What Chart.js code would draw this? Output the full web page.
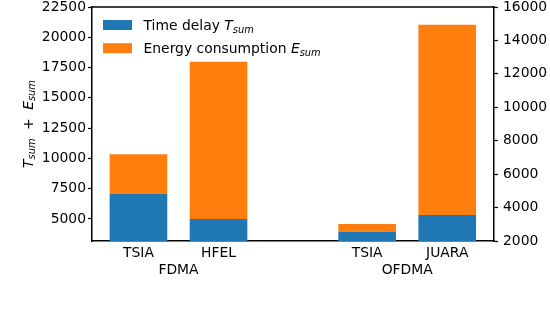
<!DOCTYPE html>
<html><head><meta charset="utf-8">
<script src="https://cdn.jsdelivr.net/npm/chart.js@4.4.0/dist/chart.umd.min.js"></script>
<style>html,body{margin:0;padding:0;background:#fff}#wrap{width:550px;height:310px}</style>
</head><body><div id="wrap"><canvas id="c" width="550" height="310"></canvas></div>
<script>
// ---- data ----
const categories = ['TSIA', 'HFEL', 'TSIA', 'JUARA'];
const groups = ['FDMA', 'OFDMA'];
const positions = [0, 1, 2.856, 3.856];
const timeDelay = [7090, 5000, 3950, 5330];
const energy = [3260, 12980, 635, 15700];
const leftTicks = [5000, 7500, 10000, 12500, 15000, 17500, 20000, 22500];
const rightTicks = [2000, 4000, 6000, 8000, 10000, 12000, 14000, 16000];
const legendLabels = [['Time delay ', 'T', 'sum'], ['Energy consumption ', 'E', 'sum']];
const axisTitle = [['T', 'sum'], ['+'], ['E', 'sum']];

const FAMILY = "'DejaVu Sans', sans-serif";
const FS = 13.9;
const tickFont = {family: FAMILY, size: FS, lineHeight: 1};
const COLORS = ['#1f77b4', '#ff7f0e'];

function setFont(ctx, p) {
  const size = p.sub ? FS * 0.71 : FS;
  ctx.font = (p.italic ? 'italic ' : '') + size + 'px ' + FAMILY;
}
function drawRich(ctx, x, y, pieces) {
  let cx = x;
  for (const p of pieces) {
    if (p.gap) { cx += p.gap; continue; }
    setFont(ctx, p);
    ctx.fillText(p.t, cx, y + (p.sub ? 2.6 : 0));
    cx += ctx.measureText(p.t).width;
  }
  return cx - x;
}
function measureRich(ctx, pieces) {
  let w = 0;
  for (const p of pieces) {
    if (p.gap) { w += p.gap; continue; }
    setFont(ctx, p);
    w += ctx.measureText(p.t).width;
  }
  return w;
}

const decor = {
  id: 'decor',
  afterDraw(chart) {
    const {ctx, chartArea: a, scales} = chart;
    ctx.save();
    ctx.strokeStyle = '#000';
    ctx.lineWidth = 1.5;
    ctx.beginPath();
    ctx.moveTo(a.left - 0.75, a.top);
    ctx.lineTo(a.right + 0.75, a.top);
    ctx.stroke();
    ctx.fillStyle = '#000';
    ctx.textBaseline = 'alphabetic';
    ctx.font = FS + 'px ' + FAMILY;
    ctx.textAlign = 'center';
    for (let g = 0; g < groups.length; g++) {
      const xm = (scales.x.getPixelForValue(positions[2 * g]) + scales.x.getPixelForValue(positions[2 * g + 1])) / 2;
      ctx.fillText(groups[g], xm, 274.3);
    }
    ctx.textAlign = 'left';
    const lx = a.left + 11, ly = a.top + 13;
    for (let i = 0; i < legendLabels.length; i++) {
      const y = ly + i * 23.2;
      ctx.fillStyle = COLORS[i];
      ctx.fillRect(lx, y, 29, 10);
      ctx.fillStyle = '#000';
      const [txt, sym, sub] = legendLabels[i];
      drawRich(ctx, lx + 40.5, y + 10, [{t: txt}, {t: sym, italic: true}, {t: sub, italic: true, sub: true}]);
    }
    const pieces = [];
    axisTitle.forEach((part, k) => {
      if (k > 0) pieces.push({gap: 8.5});
      if (part.length === 2) { pieces.push({t: part[0], italic: true}); pieces.push({t: part[1], italic: true, sub: true}); }
      else pieces.push({t: part[0]});
    });
    const w = measureRich(ctx, pieces);
    ctx.translate(32.5, (a.top + a.bottom) / 2 + w / 2);
    ctx.rotate(-Math.PI / 2);
    drawRich(ctx, 0, 0, pieces);
    ctx.restore();
  }
};

function noPad(s) { s.paddingTop = 0; s.paddingBottom = 0; s.paddingLeft = 0; s.paddingRight = 0; }

new Chart(document.getElementById('c'), {
  type: 'bar',
  data: {
    datasets: [
      {label: 'Time delay Tsum', data: positions.map((x, i) => ({x: x, y: timeDelay[i]})), backgroundColor: COLORS[0], yAxisID: 'y', barPercentage: 0.72, categoryPercentage: 1},
      {label: 'Energy consumption Esum', data: positions.map((x, i) => ({x: x, y: energy[i]})), backgroundColor: COLORS[1], yAxisID: 'y', barPercentage: 0.72, categoryPercentage: 1}
    ]
  },
  options: {
    responsive: false, animation: false, devicePixelRatio: 1,
    layout: {padding: {top: 7, left: 0, right: 0, bottom: 0}},
    plugins: {legend: {display: false}, tooltip: {enabled: false}},
    scales: {
      x: {
        type: 'linear', stacked: true, min: -0.58, max: 4.44, offset: false,
        afterBuildTicks: s => { s.ticks = positions.map(v => ({value: v})); },
        ticks: {callback: (v, i) => categories[i], font: {family: FAMILY, size: FS}, color: '#000', padding: 4, autoSkip: false, maxRotation: 0, minRotation: 0},
        grid: {display: false, drawTicks: false, offset: false},
        border: {display: true, color: '#000', width: 1.5},
        afterFit: s => { s.height = 69; noPad(s); }
      },
      y: {
        type: 'linear', position: 'left', stacked: true, min: 3180, max: 22500,
        afterBuildTicks: s => { s.ticks = leftTicks.map(v => ({value: v})); },
        ticks: {font: tickFont, color: '#000', padding: 2, callback: v => String(v)},
        grid: {drawOnChartArea: false, drawTicks: true, tickLength: 4, tickColor: '#000', tickWidth: 1.2},
        border: {display: true, color: '#000', width: 1.5},
        afterFit: s => { s.width = 92; noPad(s); }
      },
      y2: {
        type: 'linear', position: 'right', min: 2000, max: 16000,
        afterBuildTicks: s => { s.ticks = rightTicks.map(v => ({value: v})); },
        ticks: {font: tickFont, color: '#000', padding: 5, callback: v => String(v)},
        grid: {drawOnChartArea: false, drawTicks: true, tickLength: 4, tickColor: '#000', tickWidth: 1.2},
        border: {display: true, color: '#000', width: 1.5},
        afterFit: s => { s.width = 56; noPad(s); }
      }
    }
  },
  plugins: [decor]
});
</script>
</body></html>
